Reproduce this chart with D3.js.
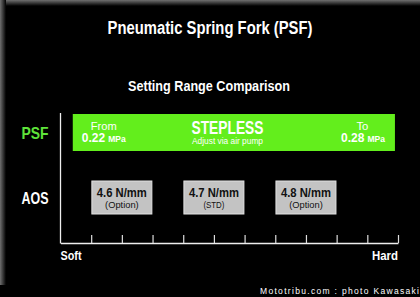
<!DOCTYPE html>
<html>
<head>
<meta charset="utf-8">
<script src="https://cdn.jsdelivr.net/npm/d3@7.9.0/dist/d3.min.js"></script>
<style>
  html, body { margin: 0; padding: 0; background: #000; }
  svg { display: block; }
  text { font-family: "Liberation Sans", Arial, sans-serif; }
</style>
</head>
<body>
<div id="chart"></div>
<script>
// rows of the comparison
const categories = ['PSF', 'AOS'];

// stiffness axis: tick steps from Soft to Hard
const stiffTicks = [0, 1, 2, 3, 4, 5, 6, 7, 8, 9, 10, 11];
const axisEnds = ['Soft', 'Hard'];

// PSF: stepless pressure range
const psfSpan = [0.4, 10.9];
const psfPressure = [0.22, 0.28];
const psfUnit = 'MPa';

// AOS: spring rate options
const aosRates = [4.6, 4.7, 4.8];
const aosNotes = ['(Option)', '(STD)', '(Option)'];
const aosPos = [2, 5, 8];

const width = 420, height = 297;
const green = '#63ee1c';

const svg = d3.select('#chart').append('svg')
  .attr('width', width)
  .attr('height', height);

// photo frame gradients
const defs = svg.append('defs');
const gl = defs.append('linearGradient').attr('id', 'fl').attr('x1', 0).attr('x2', 1).attr('y1', 0).attr('y2', 0);
gl.append('stop').attr('offset', 0).attr('stop-color', '#707070');
gl.append('stop').attr('offset', 1).attr('stop-color', '#000');
const gt = defs.append('linearGradient').attr('id', 'ft').attr('x1', 0).attr('x2', 0).attr('y1', 0).attr('y2', 1);
gt.append('stop').attr('offset', 0).attr('stop-color', '#707070');
gt.append('stop').attr('offset', 1).attr('stop-color', '#000');

svg.append('rect').attr('width', width).attr('height', height).attr('fill', '#000');
svg.append('rect').attr('x', 0).attr('y', 0).attr('width', width).attr('height', 6).attr('fill', 'url(#ft)');
svg.append('rect').attr('x', 0).attr('y', 0).attr('width', 6).attr('height', 285).attr('fill', 'url(#fl)');

// titles
svg.append('text')
  .attr('x', 210).attr('y', 33.5)
  .attr('text-anchor', 'middle')
  .attr('fill', '#fff').attr('font-weight', 'bold').attr('font-size', 17.5)
  .attr('textLength', 205).attr('lengthAdjust', 'spacingAndGlyphs')
  .text('Pneumatic Spring Fork (PSF)');

svg.append('text')
  .attr('x', 209).attr('y', 90.8)
  .attr('text-anchor', 'middle')
  .attr('fill', '#fff').attr('font-weight', 'bold').attr('font-size', 14.5)
  .attr('textLength', 162).attr('lengthAdjust', 'spacingAndGlyphs')
  .text('Setting Range Comparison');

// scales
const x = d3.scaleLinear().domain([0, 11]).range([60.5, 398]);
const y = d3.scalePoint().domain(categories).range([132.5, 197.5]);

// axis
const axis = d3.axisBottom(x)
  .tickValues(stiffTicks.slice(1))
  .tickSize(-8)
  .tickSizeOuter(0)
  .tickFormat('');

const ax = svg.append('g')
  .attr('transform', 'translate(0,243)')
  .call(axis);
ax.select('.domain').attr('stroke', '#eee').attr('stroke-width', 1.3);
ax.selectAll('.tick line').attr('stroke', '#ddd').attr('stroke-width', 1.2);

svg.append('line')
  .attr('x1', x(0)).attr('x2', x(0))
  .attr('y1', 113).attr('y2', 243.5)
  .attr('stroke', '#eee').attr('stroke-width', 1.3);

svg.append('text')
  .attr('x', x(0)).attr('y', 260)
  .attr('fill', '#fff').attr('font-weight', 'bold').attr('font-size', 13.5)
  .attr('textLength', 21).attr('lengthAdjust', 'spacingAndGlyphs')
  .text(axisEnds[0]);
svg.append('text')
  .attr('x', x(11)).attr('y', 260)
  .attr('text-anchor', 'end')
  .attr('fill', '#fff').attr('font-weight', 'bold').attr('font-size', 13.5)
  .attr('textLength', 26).attr('lengthAdjust', 'spacingAndGlyphs')
  .text(axisEnds[1]);

// row labels
svg.selectAll('text.row')
  .data(categories)
  .join('text')
  .attr('class', 'row')
  .attr('x', 35).attr('y', d => y(d) + 6.5)
  .attr('text-anchor', 'middle')
  .attr('fill', (d, i) => i === 0 ? '#5fe43a' : '#fff')
  .attr('font-weight', 'bold').attr('font-size', 17)
  .attr('textLength', 27).attr('lengthAdjust', 'spacingAndGlyphs')
  .text(d => d);

// PSF bar
const py = y('PSF');
svg.append('rect')
  .attr('x', x(psfSpan[0])).attr('y', py - 18.5)
  .attr('width', x(psfSpan[1]) - x(psfSpan[0])).attr('height', 37)
  .attr('fill', green);

const x0 = x(psfSpan[0]), x1 = x(psfSpan[1]);
const psfG = svg.append('g').attr('fill', '#fff');

psfG.append('text')
  .attr('x', x0 + 31).attr('y', py - 2.5)
  .attr('text-anchor', 'middle').attr('font-size', 11.5)
  .attr('textLength', 26).attr('lengthAdjust', 'spacingAndGlyphs')
  .text('From');
psfG.append('text')
  .attr('x', x1 - 32.5).attr('y', py - 2.5)
  .attr('text-anchor', 'middle').attr('font-size', 11.5)
  .attr('textLength', 12).attr('lengthAdjust', 'spacingAndGlyphs')
  .text('To');

const fromT = psfG.append('text')
  .attr('x', x0 + 9).attr('y', py + 9.2)
  .attr('font-weight', 'bold');
fromT.append('tspan').attr('font-size', 12).text(psfPressure[0].toFixed(2));
fromT.append('tspan').attr('font-size', 8.5).attr('dx', 3).text(psfUnit);

const toT = psfG.append('text')
  .attr('x', x1 - 10).attr('y', py + 9.2)
  .attr('text-anchor', 'end')
  .attr('font-weight', 'bold');
toT.append('tspan').attr('font-size', 12).text(psfPressure[1].toFixed(2));
toT.append('tspan').attr('font-size', 8.5).attr('dx', 3).text(psfUnit);

psfG.append('text')
  .attr('x', 227.5).attr('y', py + 1)
  .attr('text-anchor', 'middle')
  .attr('font-weight', 'bold').attr('font-size', 17.5)
  .attr('textLength', 72).attr('lengthAdjust', 'spacingAndGlyphs')
  .text('STEPLESS');
psfG.append('text')
  .attr('x', 227.5).attr('y', py + 11.5)
  .attr('text-anchor', 'middle').attr('font-size', 9)
  .attr('textLength', 71).attr('lengthAdjust', 'spacingAndGlyphs')
  .text('Adjust via air pump');

// AOS boxes
const ay = y('AOS');
const boxes = svg.selectAll('g.aos')
  .data(aosRates.map((r, i) => ({ rate: r, note: aosNotes[i], pos: aosPos[i] })))
  .join('g')
  .attr('class', 'aos')
  .attr('transform', d => `translate(${x(d.pos)},${ay})`);

boxes.append('rect')
  .attr('x', -30).attr('y', -16.5)
  .attr('width', 60).attr('height', 33)
  .attr('fill', '#c3c3c3')
  .attr('stroke', '#e2e2e2').attr('stroke-width', 1);

boxes.append('text')
  .attr('y', -0.8)
  .attr('text-anchor', 'middle')
  .attr('fill', '#111').attr('font-weight', 'bold').attr('font-size', 12)
  .attr('textLength', 50).attr('lengthAdjust', 'spacingAndGlyphs')
  .text(d => d.rate.toFixed(1) + ' N/mm');

boxes.append('text')
  .attr('y', 10)
  .attr('text-anchor', 'middle')
  .attr('fill', '#111').attr('font-size', 9.5)
  .attr('textLength', d => d.note.length * 4.2)
  .attr('lengthAdjust', 'spacingAndGlyphs')
  .text(d => d.note);

// credit
svg.append('text')
  .attr('x', 419).attr('y', 294)
  .attr('text-anchor', 'end')
  .attr('fill', '#fff')
  .attr('font-family', '"DejaVu Sans", sans-serif')
  .attr('font-size', 8.5)
  .attr('textLength', 159).attr('lengthAdjust', 'spacing')
  .text('Mototribu.com : photo Kawasaki');
</script>
</body>
</html>
